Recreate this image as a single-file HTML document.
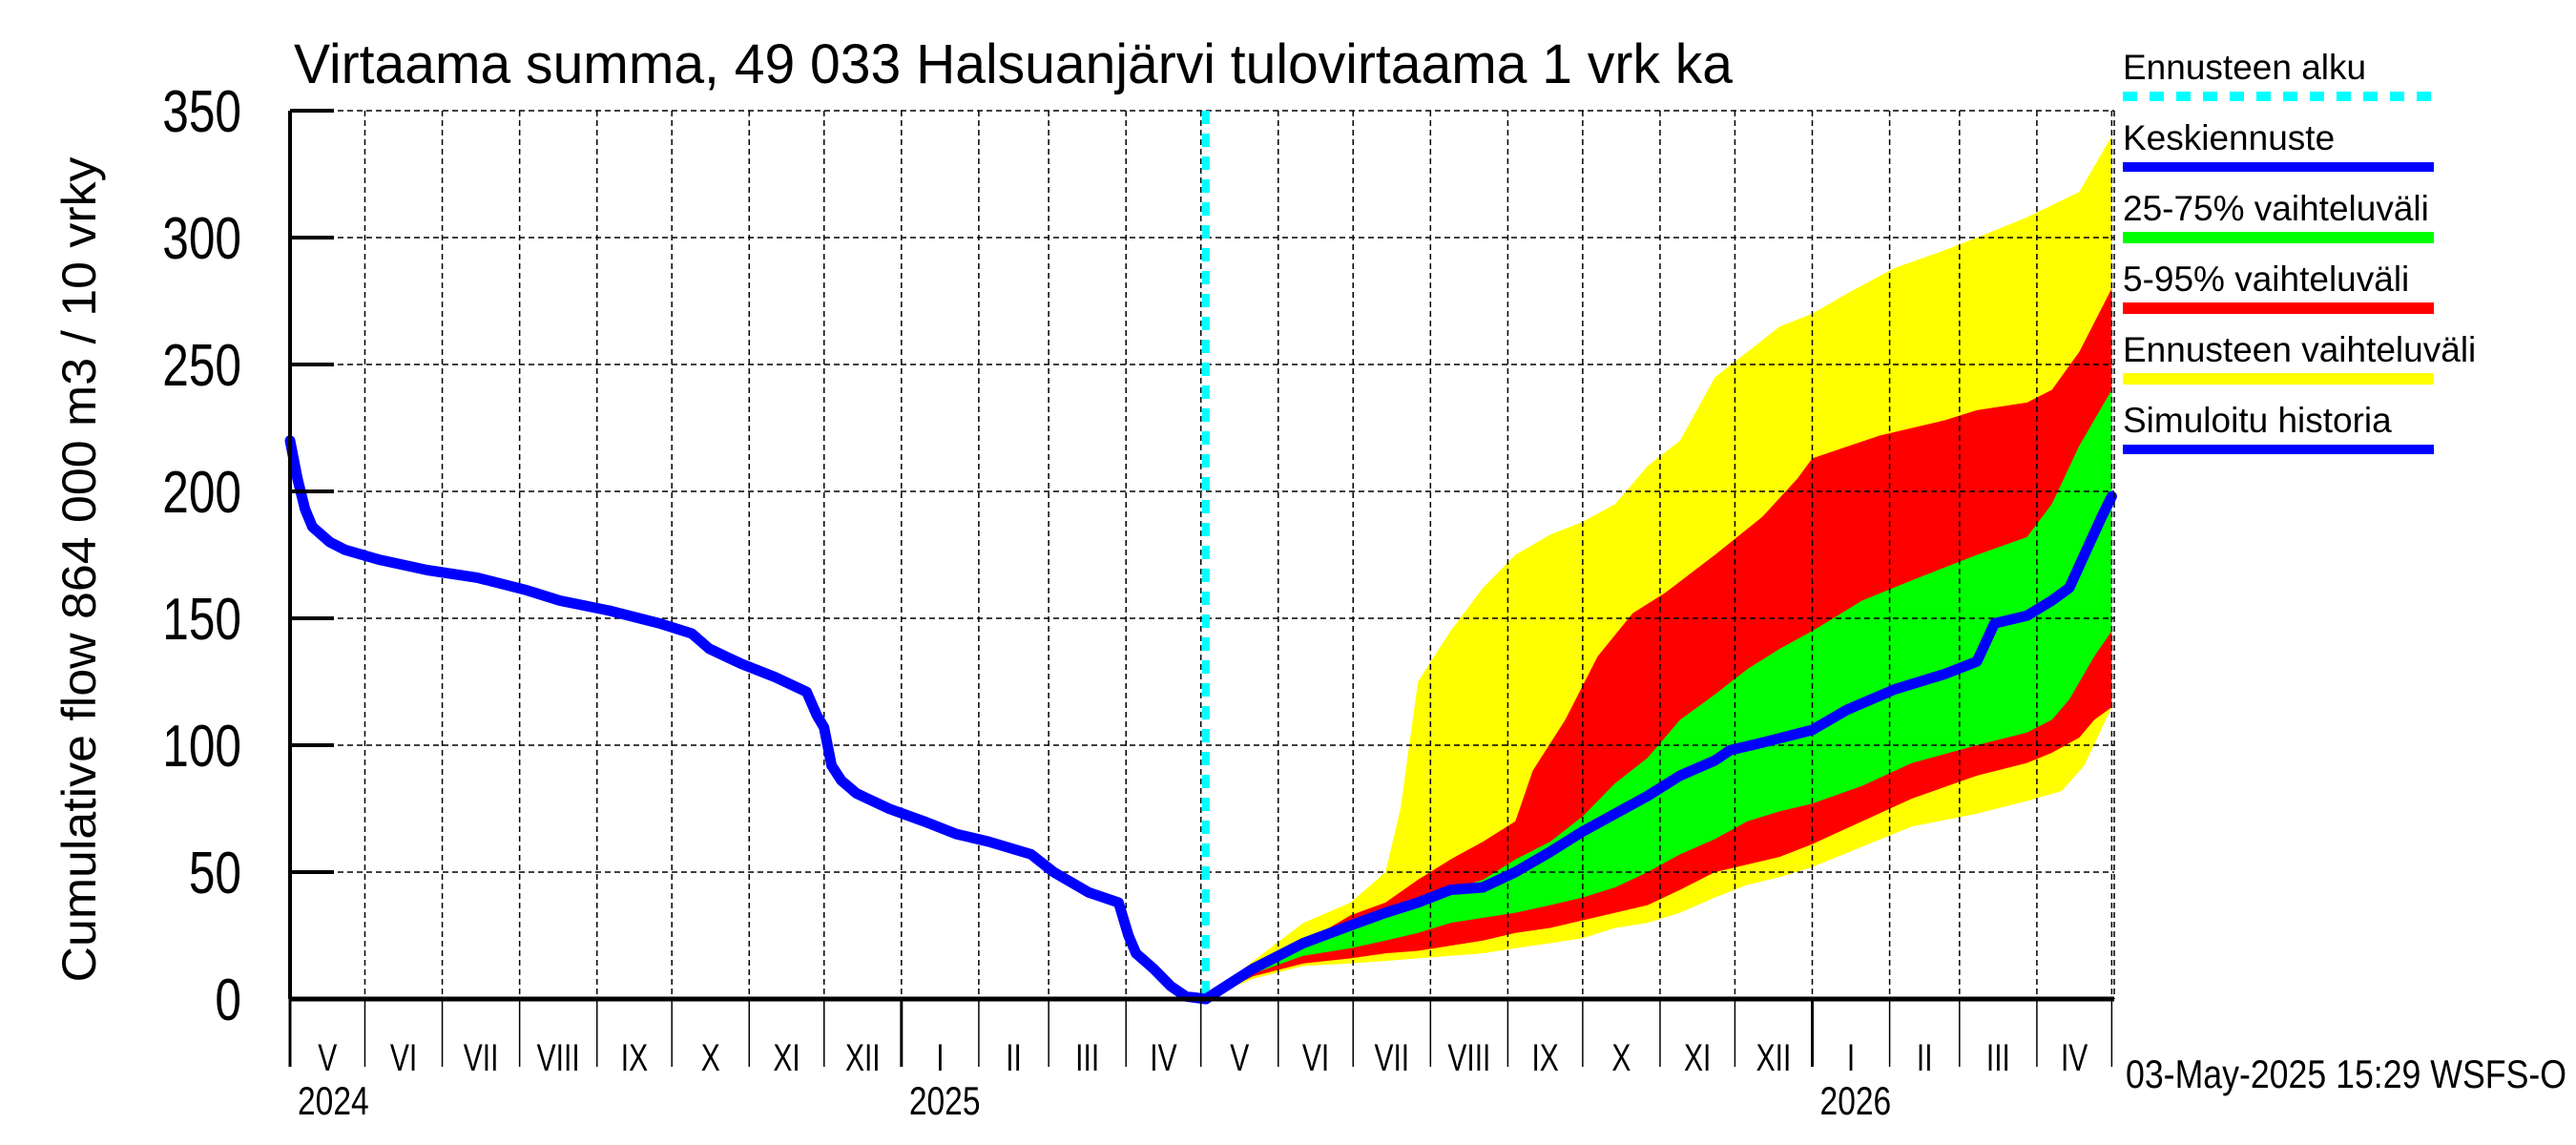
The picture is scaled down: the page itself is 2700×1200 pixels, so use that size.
<!DOCTYPE html>
<html><head><meta charset="utf-8"><style>
html,body{margin:0;padding:0;background:#fff}
svg{display:block}
text{font-family:"Liberation Sans",sans-serif;fill:#000}
</style></head><body>
<svg id="chart" width="2700" height="1200" viewBox="0 0 2700 1200" xmlns="http://www.w3.org/2000/svg">
<g id="bands"></g>
<g id="grid"></g>
<g id="lines"></g>
<g id="axes"></g>
<text x="308" y="87" font-size="58" textLength="1508" lengthAdjust="spacingAndGlyphs">Virtaama summa, 49 033 Halsuanjärvi tulovirtaama 1 vrk ka</text>
<text transform="translate(100,597) rotate(-90)" text-anchor="middle" font-size="50" textLength="865" lengthAdjust="spacingAndGlyphs">Cumulative flow    864 000 m3 / 10 vrky</text>
<text x="2228" y="1140" font-size="42" textLength="462" lengthAdjust="spacingAndGlyphs">03-May-2025 15:29 WSFS-O</text>
<g id="legend"></g>
</svg>
<script>
const histDays=[0,3,6,9,16,22,36,55,75,95,108,128,148,161,168,181,194,207,211,214,217,221,227,240,254,267,280,297,306,320,332,336,339,346,353,359,367];
const histVals=[220,205,193,186,180,177,173,169,166,161,157,153,148,144,138,132,127,121,112,107,92,86,81,75,70,65,62,57,50,42,38,25,18,12,5,1,0];
const medDays=[367,386,406,425,439,452,465,478,491,505,518,531,544,557,571,577,590,610,624,643,663,676,683,696,706,713,719,726,730];
const medVals=[0,12,22,29,34,38,43,44,50,58,66,73,80,88,94,98,101,106,114,122,128,133,148,151,157,162,175,190,198];
const yUpDays=[367,386,406,425,439,445,452,465,478,491,505,518,531,544,557,571,584,597,610,624,643,663,676,696,717,730];
const yUpVals=[0,15,30,38,50,75,125,145,162,175,183,188,195,210,220,245,255,265,270,278,288,295,300,308,318,340];
const rUpDays=[367,386,406,425,439,452,465,478,491,498,511,524,538,551,571,590,604,610,637,663,676,696,706,717,730];
const rUpVals=[0,12,22,33,38,47,55,62,70,90,110,135,152,160,175,190,205,213,222,228,232,235,240,255,280];
const gUpDays=[367,386,406,425,439,452,465,478,491,505,518,531,544,557,571,584,597,610,630,650,676,696,706,717,730];
const gUpVals=[0,11,20,28,32,37,43,47,55,62,72,85,95,110,120,130,138,145,157,165,175,182,195,218,240];
const gLoDays=[367,386,406,425,439,452,465,478,491,505,518,531,544,557,571,584,597,610,630,650,676,696,706,713,723,730];
const gLoVals=[0,10,17,20,23,26,30,32,34,37,40,44,50,57,63,70,74,77,84,93,100,105,110,118,135,145];
const rLoDays=[367,386,406,425,439,452,465,478,491,505,518,531,544,557,571,584,597,610,630,650,676,696,706,717,723,730];
const rLoVals=[0,9,14,16,18,19,21,23,26,28,31,34,37,43,50,53,56,61,70,79,88,93,97,103,110,115];
const yLoDays=[367,386,406,425,439,452,465,478,491,505,518,531,544,557,571,584,597,610,630,650,676,696,710,719,730];
const yLoVals=[0,8,13,14,15,16,17,18,20,22,24,28,30,34,40,45,48,52,60,68,73,78,82,92,115];
const yTicks=[0,50,100,150,200,250,300,350];
const monthDays=[0,30,61,92,123,153,184,214,245,276,304,335,365,396,426,457,488,518,549,579,610,641,669,700,730];
const monthLabels=["V","VI","VII","VIII","IX","X","XI","XII","I","II","III","IV","V","VI","VII","VIII","IX","X","XI","XII","I","II","III","IV"];
const yearDays=[0,245,610];
const yearLabels=["2024","2025","2026"];
const forecastDay=367;
const X0=304,X1=2216,Y0=1047,Y1=116,DMAX=731,VMAX=350;
const xs=d=>X0+d*(X1-X0)/DMAX;
const ys=v=>Y0-v*(Y0-Y1)/VMAX;
const NS="http://www.w3.org/2000/svg";
function mk(tag,attrs,parent){const e=document.createElementNS(NS,tag);for(const k in attrs)e.setAttribute(k,attrs[k]);parent.appendChild(e);return e;}
const bands=document.getElementById('bands'),grid=document.getElementById('grid'),lines=document.getElementById('lines'),axes=document.getElementById('axes'),legend=document.getElementById('legend');
function bandPath(ud,uv,ld,lv){let p=ud.map((d,i)=>(i?'L':'M')+xs(d).toFixed(1)+','+ys(uv[i]).toFixed(1)).join(' ');for(let i=ld.length-1;i>=0;i--)p+=' L'+xs(ld[i]).toFixed(1)+','+ys(lv[i]).toFixed(1);return p+' Z';}
function linePath(d,v){return d.map((x,i)=>(i?'L':'M')+xs(x).toFixed(1)+','+ys(v[i]).toFixed(1)).join(' ');}
let e;
e=mk('path',{d:bandPath(yUpDays,yUpVals,yLoDays,yLoVals),fill:'#ffff00'},bands);


e=mk('path',{d:bandPath(rUpDays,rUpVals,rLoDays,rLoVals),fill:'#ff0000'},bands);


e=mk('path',{d:bandPath(gUpDays,gUpVals,gLoDays,gLoVals),fill:'#00ff00'},bands);


yTicks.forEach(v=>{
 const g=mk('line',{x1:X0,x2:X1,y1:ys(v),y2:ys(v),stroke:'#000','stroke-width':1.5,'stroke-dasharray':'6,4'},grid);
 
 
 const t=mk('line',{x1:X0,x2:X0+46,y1:ys(v),y2:ys(v),stroke:'#000','stroke-width':4},axes);
 
 
 const s=String(v);
 const l=mk('text',{x:0,y:0,'text-anchor':'end','font-size':62,transform:'translate(253,'+(ys(v)+22)+') scale(0.8,1)'},axes);
 l.textContent=s;
 
 
});
monthDays.forEach((d,i)=>{
 if(i>0){const g=mk('line',{x1:xs(d),x2:xs(d),y1:Y1,y2:Y0,stroke:'#000','stroke-width':1.5,'stroke-dasharray':'6,4'},grid);
 
 }
 const t=mk('line',{x1:xs(d),x2:xs(d),y1:Y0,y2:1118,stroke:'#000','stroke-width':yearDays.includes(d)?3:1.5},axes);
 
 
 if(i<monthLabels.length){
  const cx=(xs(d)+xs(monthDays[i+1]))/2;
  const l=mk('text',{x:0,y:0,'text-anchor':'middle','font-size':40,transform:'translate('+cx+',1122) scale(0.75,1)'},axes);
  l.textContent=monthLabels[i];
  
  
 }
});
yearDays.forEach((d,i)=>{
 const l=mk('text',{x:0,y:0,'font-size':42,transform:'translate('+(xs(d)+8)+',1168) scale(0.8,1)'},axes);
 l.textContent=yearLabels[i];
 
 
});
e=mk('line',{x1:xs(forecastDay),x2:xs(forecastDay),y1:Y1,y2:Y0,stroke:'#00ffff','stroke-width':8,'stroke-dasharray':'14,10'},lines);


e=mk('path',{d:linePath(histDays,histVals),fill:'none',stroke:'#0000ff','stroke-width':11,'stroke-linejoin':'round','stroke-linecap':'round'},lines);


e=mk('path',{d:linePath(medDays,medVals),fill:'none',stroke:'#0000ff','stroke-width':11,'stroke-linejoin':'round','stroke-linecap':'round'},lines);


e=mk('line',{x1:X0,x2:X0,y1:Y1,y2:Y0,stroke:'#000','stroke-width':4},axes);


e=mk('line',{x1:X0,x2:X1,y1:Y0,y2:Y0,stroke:'#000','stroke-width':5},axes);


e=mk('line',{x1:X1,x2:X1,y1:Y1,y2:Y0,stroke:'#000','stroke-width':1.5,'stroke-dasharray':'6,4'},axes);


const legLabels=["Ennusteen alku","Keskiennuste","25-75% vaihteluväli","5-95% vaihteluväli","Ennusteen vaihteluväli","Simuloitu historia"];
const legColors=["#00ffff","#0000ff","#00ff00","#ff0000","#ffff00","#0000ff"];
legLabels.forEach((s,i)=>{
 const by=83+i*74;
 const t=mk('text',{x:2225,y:by,'font-size':37},legend);
 t.textContent=s;
 
 
 const a={x1:2225,x2:2551,y1:by+18,y2:by+18,stroke:legColors[i],'stroke-width':i===0?10:(i===1||i===5?10:12)};
 if(i===0)a['stroke-dasharray']='15,13';
 const l=mk('line',a,legend);
 
 
});
</script>
</body></html>
